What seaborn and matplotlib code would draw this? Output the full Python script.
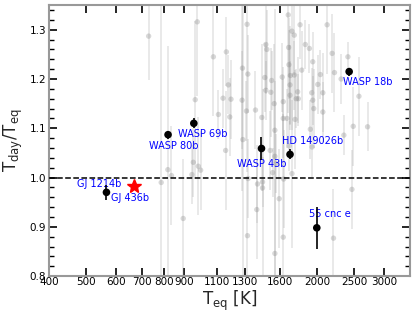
import numpy as np
import pandas as pd
import matplotlib
matplotlib.use("Agg")
import matplotlib.pyplot as plt
import seaborn as sns
from matplotlib.ticker import MultipleLocator, NullLocator

# grey sample: equilibrium temperature [K], T_day/T_eq, error
teq_all = [728, 785, 817, 835, 896, 952, 981, 995, 944, 963, 975, 1074, 1161, 1175,
           1138, 1194, 1107, 1185, 1156, 1315, 1279, 1321, 1276, 1310, 1383, 1282,
           1323, 1318, 1400, 1394, 1443, 1443, 1472, 1481, 1524, 1463, 1472, 1517,
           1548, 1437, 1554, 1511, 1595, 1554, 1554, 1564, 1533, 1638, 1722, 1634,
           1943, 2469, 2210, 1694, 1684, 1722, 1746, 1808, 1866, 1912, 1951, 2127,
           2192, 2410, 2223, 2314, 2043, 2011, 1826, 1688, 1691, 1705, 1624, 1746,
           1702, 1702, 1782, 1789, 1767, 1939, 2073, 1951, 1634, 1963, 2073, 2575,
           1634, 1671, 1754, 1923, 2488, 2712, 2352]
ratio_all = [1.287, 0.990, 1.016, 1.004, 0.917, 1.031, 1.023, 1.015, 1.006, 1.158,
             1.316, 1.245, 1.255, 1.188, 1.161, 1.159, 1.128, 1.123, 1.055, 1.311,
             1.222, 1.210, 1.157, 1.135, 1.137, 1.077, 0.998, 0.882, 0.987, 0.935,
             0.991, 0.979, 1.270, 1.260, 1.197, 1.203, 1.177, 1.173, 1.150, 1.122,
             1.096, 1.055, 0.957, 0.846, 1.043, 1.028, 1.010, 0.997, 1.008, 0.879,
             1.062, 0.976, 0.877, 1.064, 1.330, 1.297, 1.289, 1.310, 1.270, 1.262,
             1.235, 1.310, 1.252, 1.245, 1.213, 1.200, 1.209, 1.189, 1.218, 1.264,
             1.229, 1.207, 1.204, 1.208, 1.188, 1.167, 1.174, 1.160, 1.160, 1.172,
             1.172, 1.157, 1.154, 1.140, 1.133, 1.165, 1.120, 1.120, 1.118, 1.098,
             1.104, 1.103, 1.086]
err_all = [0.09, 0.40, 0.25, 0.10, 0.12, 0.07, 0.10, 0.08, 0.06, 0.16, 0.15, 0.12,
           0.07, 0.06, 0.06, 0.08, 0.05, 0.08, 0.12, 0.30, 0.25, 0.08, 0.10, 0.06,
           0.08, 0.30, 0.08, 0.12, 0.08, 0.10, 0.05, 0.20, 0.10, 0.08, 0.06, 0.07,
           0.06, 0.09, 0.12, 0.15, 0.10, 0.08, 0.10, 0.15, 0.30, 0.06, 0.05, 0.10,
           0.15, 0.25, 0.06, 0.08, 0.10, 0.05, 0.20, 0.20, 0.08, 0.07, 0.05, 0.05,
           0.06, 0.10, 0.08, 0.03, 0.08, 0.05, 0.05, 0.06, 0.08, 0.06, 0.07, 0.10,
           0.07, 0.07, 0.08, 0.07, 0.07, 0.05, 0.06, 0.05, 0.08, 0.05, 0.07, 0.08,
           0.06, 0.08, 0.08, 0.06, 0.10, 0.06, 0.08, 0.05, 0.04]

# highlighted planets
names = ["GJ 1214b", "WASP 80b", "WASP 69b", "WASP 43b", "HD 149026b", "WASP 18b", "55 cnc e"]
teq_hl = [565, 818, 955, 1434, 1702, 2428, 1999]
ratio_hl = [0.970, 1.087, 1.110, 1.059, 1.047, 1.215, 0.898]
err_hl = [0.015, 0.008, 0.010, 0.023, 0.010, 0.008, 0.043]

star_teq = 668
star_ratio = 0.982
star_name = "GJ 436b"

xticks = [400, 500, 600, 700, 800, 900, 1100, 1300, 1600, 2000, 2500, 3000]

grey = pd.DataFrame({"teq": teq_all, "ratio": ratio_all, "err": err_all})
hl = pd.DataFrame({"name": names, "teq": teq_hl, "ratio": ratio_hl, "err": err_hl})

sns.set_style("ticks")
fig, ax = plt.subplots(figsize=(4.15, 3.17), dpi=100)
fig.subplots_adjust(left=0.118, right=0.988, top=0.984, bottom=0.129)

ax.errorbar(grey["teq"], grey["ratio"], yerr=grey["err"], fmt="none",
            ecolor="0.6", alpha=0.25, elinewidth=1.2, zorder=1)
sns.scatterplot(data=grey, x="teq", y="ratio", color="0.5", alpha=0.3,
                s=15, edgecolor="none", ax=ax, zorder=2)

ax.axhline(1.0, color="black", ls="--", lw=1.1, zorder=3)

ax.errorbar(hl["teq"], hl["ratio"], yerr=hl["err"], fmt="none",
            ecolor="black", elinewidth=1.2, zorder=4)
sns.scatterplot(data=hl, x="teq", y="ratio", color="black", s=30,
                edgecolor="none", ax=ax, zorder=5)
ax.plot([star_teq], [star_ratio], marker="*", color="red", ms=10, ls="none", zorder=5)

offsets = {"GJ 1214b": (-21, 6.3), "WASP 80b": (-14, -8.4), "WASP 69b": (-11.2, -7.9),
           "WASP 43b": (-17.8, -11.5), "HD 149026b": (-6, 9.4), "WASP 18b": (-4.5, -7.7),
           "55 cnc e": (-5.3, 9.6)}
for _, r in hl.iterrows():
    ax.annotate(r["name"], (r["teq"], r["ratio"]), xytext=offsets[r["name"]],
                textcoords="offset points", ha="left", va="center",
                color="blue", fontsize=7)
ax.annotate(star_name, (teq_hl[0], ratio_hl[0]), xytext=(3.2, -3.8),
            textcoords="offset points", ha="left", va="center",
            color="blue", fontsize=7)

ax.set_xscale("log")
ax.set_xlim(400, 3500)
ax.set_ylim(0.8, 1.35)
ax.set_xticks(xticks)
ax.set_xticklabels([str(t) for t in xticks])
ax.xaxis.set_minor_locator(NullLocator())
ax.yaxis.set_major_locator(MultipleLocator(0.1))
ax.yaxis.set_minor_locator(MultipleLocator(0.02))

ax.tick_params(which="both", direction="in", top=True, right=True, colors="black",
               labelsize=7.5)
ax.tick_params(axis="x", which="major", length=6, width=1.2, pad=1)
ax.tick_params(axis="y", which="major", length=6, width=1.2, pad=2)
ax.tick_params(axis="y", which="minor", length=3.5, width=1.0)

for sp in ax.spines.values():
    sp.set_color("0.6")
    sp.set_linewidth(1.5)

ax.set_xlabel(r"$\mathrm{T_{eq}}$ [K]", fontsize=12, labelpad=1)
ax.set_ylabel(r"$\mathrm{T_{day}/T_{eq}}$", fontsize=12, labelpad=3)

fig.savefig("out.png", dpi=100)
